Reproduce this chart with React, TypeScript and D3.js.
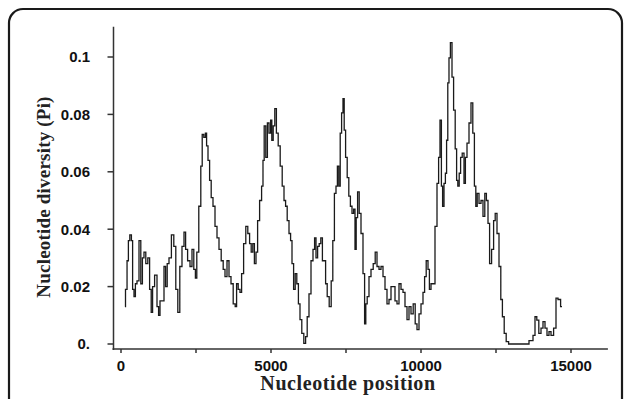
import * as d3 from 'd3';
import { useRef, useEffect } from 'react';

// sliding-window positions (bp) and nucleotide diversity
const positions = [
  130, 170, 233, 260, 327, 367, 407, 460, 500, 567, 633, 687, 740, 793, 860, 927, 980, 1033, 1073, 1167,
  1233, 1273, 1327, 1407, 1460, 1513, 1567, 1633, 1727, 1793, 1860, 1927, 1993, 2073, 2127, 2180, 2260, 2340, 2393, 2460,
  2500, 2553, 2633, 2687, 2727, 2793, 2833, 2873, 2927, 2980, 3033, 3100, 3167, 3233, 3300, 3380, 3433, 3500, 3567, 3633,
  3700, 3780, 3833, 3873, 3940, 3993, 4047, 4127, 4193, 4260, 4313, 4367, 4420, 4473, 4527, 4580, 4660, 4713, 4753, 4793,
  4860, 4900, 4967, 5007, 5047, 5100, 5153, 5207, 5273, 5340, 5407, 5460, 5513, 5567, 5633, 5673, 5727, 5780, 5833, 5887,
  5940, 5993, 6060, 6127, 6180, 6233, 6300, 6367, 6433, 6473, 6527, 6580, 6633, 6687, 6740, 6793, 6847, 6900, 6980, 7033,
  7087, 7140, 7193, 7233, 7287, 7327, 7380, 7420, 7460, 7513, 7567, 7620, 7673, 7727, 7780, 7820, 7860, 7913, 7967, 8033,
  8100, 8140, 8180, 8233, 8300, 8367, 8447, 8500, 8567, 8633, 8700, 8767, 8833, 8900, 8967, 9033, 9100, 9167, 9233, 9300,
  9367, 9433, 9500, 9567, 9633, 9700, 9780, 9833, 9900, 9967, 10033, 10100, 10140, 10207, 10260, 10300, 10367, 10433, 10500, 10567,
  10607, 10660, 10700, 10740, 10793, 10833, 10873, 10913, 10953, 11007, 11060, 11113, 11167, 11207, 11247, 11300, 11340, 11407, 11460, 11500,
  11567, 11633, 11700, 11753, 11807, 11847, 11900, 11967, 12033, 12100, 12153, 12207, 12260, 12313, 12393, 12447, 12500, 12567, 12633, 12687,
  12740, 12807, 12873, 12967, 13567, 13633, 13700, 13767, 13833, 13887, 13967, 14033, 14100, 14167, 14233, 14300, 14367, 14473, 14527, 14607,
  14700,
];

const diversity = [
  0.013, 0.019, 0.029, 0.036, 0.038, 0.036, 0.019, 0.0165, 0.021, 0.022, 0.036, 0.021, 0.030, 0.032, 0.028, 0.030, 0.019, 0.011, 0.020, 0.024,
  0.013, 0.010, 0.015, 0.015, 0.027, 0.020, 0.028, 0.030, 0.038, 0.034, 0.019, 0.011, 0.027, 0.034, 0.039, 0.033, 0.029, 0.027, 0.033, 0.026,
  0.023, 0.032, 0.048, 0.062, 0.073, 0.072, 0.0735, 0.069, 0.064, 0.057, 0.051, 0.048, 0.041, 0.037, 0.033, 0.029, 0.026, 0.0235, 0.029, 0.0235,
  0.021, 0.014, 0.013, 0.021, 0.019, 0.018, 0.0245, 0.035, 0.041, 0.0385, 0.035, 0.032, 0.035, 0.028, 0.032, 0.043, 0.050, 0.055, 0.064, 0.076,
  0.065, 0.077, 0.0735, 0.078, 0.071, 0.076, 0.082, 0.0735, 0.069, 0.062, 0.055, 0.050, 0.048, 0.043, 0.0385, 0.036, 0.028, 0.019, 0.0245, 0.021,
  0.014, 0.0085, 0.0037, 0.0002, 0.0026, 0.0095, 0.0175, 0.029, 0.033, 0.037, 0.030, 0.034, 0.035, 0.037, 0.029, 0.029, 0.021, 0.0165, 0.013, 0.022,
  0.036, 0.0525, 0.055, 0.062, 0.055, 0.0735, 0.0805, 0.0855, 0.0745, 0.065, 0.058, 0.0515, 0.048, 0.0455, 0.047, 0.033, 0.044, 0.053, 0.0455, 0.0385,
  0.0245, 0.007, 0.014, 0.0165, 0.0235, 0.026, 0.028, 0.032, 0.027, 0.026, 0.027, 0.0235, 0.019, 0.014, 0.0155, 0.020, 0.020, 0.015, 0.014, 0.021,
  0.019, 0.018, 0.013, 0.0085, 0.013, 0.0105, 0.014, 0.007, 0.005, 0.0105, 0.014, 0.018, 0.0235, 0.029, 0.026, 0.019, 0.021, 0.021, 0.041, 0.056,
  0.065, 0.078, 0.055, 0.048, 0.056, 0.0595, 0.071, 0.091, 0.0997, 0.105, 0.093, 0.0815, 0.068, 0.057, 0.055, 0.0595, 0.065, 0.0665, 0.056, 0.065,
  0.070, 0.077, 0.084, 0.0735, 0.055, 0.048, 0.0525, 0.049, 0.050, 0.0445, 0.0525, 0.050, 0.042, 0.028, 0.033, 0.043, 0.0455, 0.0385, 0.027, 0.0155,
  0.0095, 0.0037, 0.0008, 0, 0, 0.0012, 0.0012, 0.003, 0.0095, 0.0083, 0.0037, 0.0055, 0.0078, 0.0055, 0.003, 0.0043, 0.003, 0.0055, 0.016, 0.0155,
  0.013,
];

const xTicks = [0, 5000, 10000, 15000];
const xMinorTicks = [2500, 7500, 12500];
const yTicks = [0, 0.02, 0.04, 0.06, 0.08, 0.1];
const yTickLabels = ['0.', '0.02', '0.04', '0.06', '0.08', '0.1'];

const W = 627;
const H = 399;

const App = () => {
  const ref = useRef<SVGSVGElement>(null);

  useEffect(() => {
    if (!ref.current) return;
    const svg = d3.select(ref.current);
    svg.selectAll('*').remove();

    const x = d3.scaleLinear().domain([0, 15000]).range([121, 571]);
    const y = d3.scaleLinear().domain([0, 0.1]).range([344, 57]);
    const axisY = 349; // x axis sits a little below the zero line
    const axisX = 113.5;

    // frame
    svg.append('rect')
      .attr('x', 9).attr('y', 9)
      .attr('width', 613).attr('height', 430)
      .attr('rx', 14)
      .attr('fill', 'none')
      .attr('stroke', '#1a1a1a')
      .attr('stroke-width', 2.2);

    const axisColor = '#333';
    const tickFont = '"Liberation Sans", Arial, sans-serif';
    const titleFont = '"Liberation Serif", "Times New Roman", serif';

    // y axis
    svg.append('line')
      .attr('x1', axisX).attr('x2', axisX)
      .attr('y1', y(0.1105)).attr('y2', axisY + 1)
      .attr('stroke', axisColor).attr('stroke-width', 1.5);

    const yg = svg.append('g');
    yg.selectAll('line')
      .data(yTicks)
      .join('line')
      .attr('x1', axisX - 6).attr('x2', axisX)
      .attr('y1', d => y(d)).attr('y2', d => y(d))
      .attr('stroke', axisColor).attr('stroke-width', 1.5);
    yg.selectAll('text')
      .data(yTicks)
      .join('text')
      .attr('x', 90)
      .attr('y', d => y(d))
      .attr('dy', '0.36em')
      .attr('text-anchor', 'end')
      .attr('font-family', tickFont)
      .attr('font-weight', 'bold')
      .attr('font-size', 15)
      .attr('fill', '#111')
      .text((_, i) => yTickLabels[i]);

    // x axis
    svg.append('line')
      .attr('x1', axisX - 1).attr('x2', x(16230))
      .attr('y1', axisY).attr('y2', axisY)
      .attr('stroke', axisColor).attr('stroke-width', 1.5);

    const xg = svg.append('g');
    xg.selectAll('line')
      .data([...xTicks, ...xMinorTicks])
      .join('line')
      .attr('x1', d => x(d)).attr('x2', d => x(d))
      .attr('y1', axisY).attr('y2', axisY + 4)
      .attr('stroke', axisColor).attr('stroke-width', 1.5);
    xg.selectAll('text')
      .data(xTicks)
      .join('text')
      .attr('x', d => x(d))
      .attr('y', 370.5)
      .attr('text-anchor', 'middle')
      .attr('font-family', tickFont)
      .attr('font-weight', 'bold')
      .attr('font-size', 15)
      .attr('fill', '#111')
      .text(d => String(d));

    // titles
    svg.append('text')
      .attr('x', 348)
      .attr('y', 390)
      .attr('text-anchor', 'middle')
      .attr('font-family', titleFont)
      .attr('font-weight', 'bold')
      .attr('font-size', 20)
      .attr('letter-spacing', 0.6)
      .attr('fill', '#222')
      .text('Nucleotide position');

    svg.append('text')
      .attr('transform', 'translate(50,197) rotate(-90)')
      .attr('text-anchor', 'middle')
      .attr('font-family', titleFont)
      .attr('font-weight', 'bold')
      .attr('font-size', 19)
      .attr('letter-spacing', 0.2)
      .attr('fill', '#222')
      .text('Nucleotide diversity (Pi)');

    // the diversity curve
    const line = d3.line<number>()
      .x((_, i) => x(positions[i]))
      .y(d => y(d))
      .curve(d3.curveStep);

    svg.append('path')
      .datum(diversity)
      .attr('d', line)
      .attr('fill', 'none')
      .attr('stroke', '#1a1a1a')
      .attr('stroke-width', 1.3)
      .attr('stroke-linejoin', 'miter');
  }, []);

  return (
    <svg
      ref={ref}
      width={W}
      height={H}
      style={{ position: 'absolute', left: 0, top: 0, background: '#fff' }}
    />
  );
};

export default App;
